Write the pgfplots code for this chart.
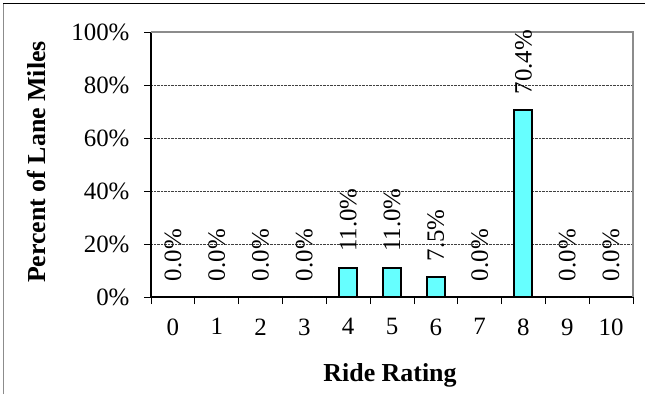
\documentclass[border=0pt]{standalone}
\usepackage{pgfplots}
\pgfplotsset{compat=1.18}
\usepackage{fontspec}
\setmainfont{Liberation Serif}
\definecolor{barcyan}{RGB}{102,255,255}
\definecolor{framegray}{RGB}{140,140,140}
\begin{document}
\begin{tikzpicture}[x=1bp,y=1bp]
\begin{axis}[
  at={(151bp,-297bp)}, anchor=south west,
  scale only axis, width=482bp, height=265bp,
  xmin=-0.5, xmax=10.5, ymin=0, ymax=100,
  axis x line*=bottom, axis y line*=left,
  axis line style={-, black, line width=1.5pt},
  tick align=outside,
  major tick length=7bp,
  tick style={black, line width=0.8pt},
  xtick={-0.5,0.5,...,10.5},
  x tick label as interval,
  xticklabels={0,1,2,3,4,5,6,7,8,9,10},
  ytick={0,20,40,60,80,100},
  yticklabel={\pgfmathprintnumber{\tick}\%},
  /pgf/number format/assume math mode=true,
  tick label style={font=\fontsize{25}{25}\selectfont},
  y tick label style={xshift=-11bp},
  x tick label style={yshift=-11bp},
  ymajorgrids,
  grid style={densely dotted, black!75, line width=0.7pt},
  ybar, bar width=18bp,
  nodes near coords={\pgfmathprintnumber[fixed,fixed zerofill,precision=1]{\pgfplotspointmeta}\%},
  every node near coord/.append style={rotate=90, anchor=west, inner xsep=15bp, inner ysep=0pt, font=\fontsize{25}{25}\selectfont, black},
  clip=false,
]
\addplot[fill=barcyan, draw=black, line width=2pt] coordinates {
(0,0) (1,0) (2,0) (3,0) (4,11.0) (5,11.0) (6,7.5) (7,0) (8,70.4) (9,0) (10,0)
};
\draw[framegray, line width=1.8pt] (rel axis cs:0,1) -- (rel axis cs:1,1) -- (rel axis cs:1,0);
\end{axis}
\node[rotate=90, font=\bfseries\fontsize{26}{26}\selectfont] at (37,-162) {Percent of Lane Miles};
\node[font=\bfseries\fontsize{26}{26}\selectfont] at (390,-375) {Ride Rating};
\draw[framegray, line width=1pt] (3,-394) -- (3,-3);
\draw[black, line width=1pt] (3,-3) -- (645,-3);
\pgfresetboundingbox
\useasboundingbox (0,0) rectangle (645,-394);
\end{tikzpicture}
\end{document}
